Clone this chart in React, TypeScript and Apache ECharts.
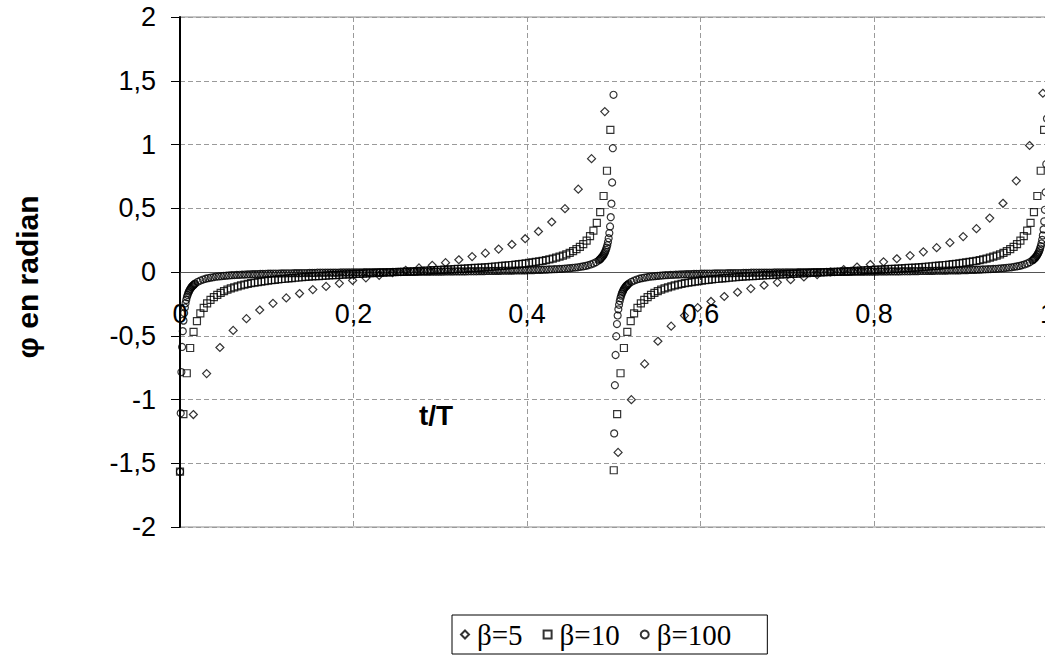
import React, { useEffect, useRef } from "react";
import * as echarts from "echarts";

// ---------- axes ----------
const X_MIN = 0;
const X_MAX = 1;
const X_STEP = 0.2;
const Y_MIN = -2;
const Y_MAX = 2;
const Y_STEP = 0.5;
const X_TITLE = "t/T";
const Y_TITLE = "\u03c6 en radian";
const SERIES_NAMES = ["\u03b2=5", "\u03b2=10", "\u03b2=100"];

// ---------- β=5 (uniform time samples) ----------
const B5_T0 = 0.0154;
const B5_DT = 0.0153;
const B5_PHI = [
  -1.118, -0.797, -0.592, -0.458, -0.366, -0.298, -0.246, -0.203, -0.169, -0.138,
  -0.113, -0.089, -0.066, -0.046, -0.026, -0.006, 0.013, 0.032, 0.052, 0.073,
  0.096, 0.121, 0.148, 0.18, 0.216, 0.261, 0.318, 0.392, 0.497, 0.65,
  0.889, 1.258,
  -1.415, -1.001, -0.721, -0.543, -0.425, -0.342, -0.28, -0.231, -0.192, -0.159,
  -0.13, -0.104, -0.081, -0.06, -0.039, -0.02, 0.0, 0.019, 0.039, 0.059,
  0.08, 0.104, 0.129, 0.158, 0.191, 0.23, 0.278, 0.34, 0.423, 0.539,
  0.715, 0.992, 1.402,
];

// ---------- β=10 (samples every 1/256 of T) ----------
const B10_DT = 0.00390625;
const B10_T0_P1 = 0;
const B10_T0_P2 = 0.5;
const B10_PHI_P1 = [
  -1.565,
  -1.115, -0.794, -0.596, -0.47, -0.385, -0.325, -0.281, -0.246, -0.219, -0.197,
  -0.179, -0.163, -0.15, -0.139, -0.129, -0.12, -0.112, -0.105, -0.099, -0.093,
  -0.088, -0.083, -0.079, -0.075, -0.071, -0.067, -0.064, -0.061, -0.058, -0.055,
  -0.053, -0.05, -0.048, -0.045, -0.043, -0.041, -0.039, -0.037, -0.035, -0.033,
  -0.032, -0.03, -0.028, -0.027, -0.025, -0.024, -0.022, -0.021, -0.019, -0.018,
  -0.017, -0.015, -0.014, -0.013, -0.011, -0.01, -0.009, -0.007, -0.006, -0.005,
  -0.004, -0.002, -0.001,
  0,
  0.001, 0.002, 0.004, 0.005, 0.006, 0.007, 0.009, 0.01, 0.011, 0.013,
  0.014, 0.015, 0.017, 0.018, 0.019, 0.021, 0.022, 0.024, 0.025, 0.027,
  0.028, 0.03, 0.032, 0.033, 0.035, 0.037, 0.039, 0.041, 0.043, 0.045,
  0.048, 0.05, 0.053, 0.055, 0.058, 0.061, 0.064, 0.067, 0.071, 0.075,
  0.079, 0.083, 0.088, 0.093, 0.099, 0.105, 0.112, 0.12, 0.129, 0.139,
  0.15, 0.163, 0.179, 0.197, 0.219, 0.246, 0.281, 0.325, 0.385, 0.47,
  0.596, 0.794, 1.115,
];
const B10_PHI_P2 = [
  -1.555,
  -1.115, -0.794, -0.596, -0.47, -0.385, -0.325, -0.281, -0.246, -0.219, -0.197,
  -0.179, -0.163, -0.15, -0.139, -0.129, -0.12, -0.112, -0.105, -0.099, -0.093,
  -0.088, -0.083, -0.079, -0.075, -0.071, -0.067, -0.064, -0.061, -0.058, -0.055,
  -0.053, -0.05, -0.048, -0.045, -0.043, -0.041, -0.039, -0.037, -0.035, -0.033,
  -0.032, -0.03, -0.028, -0.027, -0.025, -0.024, -0.022, -0.021, -0.019, -0.018,
  -0.017, -0.015, -0.014, -0.013, -0.011, -0.01, -0.009, -0.007, -0.006, -0.005,
  -0.004, -0.002, -0.001,
  0,
  0.001, 0.002, 0.004, 0.005, 0.006, 0.007, 0.009, 0.01, 0.011, 0.013,
  0.014, 0.015, 0.017, 0.018, 0.019, 0.021, 0.022, 0.024, 0.025, 0.027,
  0.028, 0.03, 0.032, 0.033, 0.035, 0.037, 0.039, 0.041, 0.043, 0.045,
  0.048, 0.05, 0.053, 0.055, 0.058, 0.061, 0.064, 0.067, 0.071, 0.075,
  0.079, 0.083, 0.088, 0.093, 0.099, 0.105, 0.112, 0.12, 0.129, 0.139,
  0.15, 0.163, 0.179, 0.197, 0.219, 0.246, 0.281, 0.325, 0.385, 0.47,
  0.596, 0.794, 1.115,
];

// ---------- β=100 (dense samples) ----------
// steep parts near the jumps: [t/T, phi]
const B100_NEAR_0 = [
  [0, -1.566], [0.0008, -1.107], [0.0016, -0.785], [0.0024, -0.588], [0.0032, -0.464],
  [0.004, -0.381], [0.0048, -0.322], [0.0056, -0.278], [0.0064, -0.245], [0.0072, -0.219],
  [0.008, -0.197], [0.0088, -0.18], [0.0095, -0.165], [0.0103, -0.153], [0.0111, -0.142],
  [0.0119, -0.133], [0.0127, -0.124], [0.0135, -0.117], [0.0143, -0.111], [0.0151, -0.105],
  [0.0159, -0.1], [0.0167, -0.095],
];
const B100_BEFORE_HALF = [
  [0.48379, 0.098], [0.48459, 0.103], [0.48538, 0.108], [0.48618, 0.115], [0.48698, 0.122],
  [0.48777, 0.129], [0.48857, 0.138], [0.48936, 0.149], [0.49016, 0.16], [0.49096, 0.174],
  [0.49175, 0.191], [0.49255, 0.21], [0.49334, 0.235], [0.49414, 0.265], [0.49493, 0.305],
  [0.49573, 0.357], [0.49653, 0.43], [0.49732, 0.536], [0.49812, 0.702], [0.49891, 0.971],
  [0.49971, 1.39],
];
const B100_AFTER_HALF = [
  [0.5005, -1.266], [0.5013, -0.888], [0.5021, -0.651], [0.5029, -0.504], [0.5037, -0.408],
  [0.5045, -0.341], [0.5053, -0.293], [0.5061, -0.257], [0.5069, -0.228], [0.5077, -0.205],
  [0.5085, -0.186], [0.5093, -0.17], [0.5101, -0.157], [0.5109, -0.146], [0.5116, -0.136],
  [0.5124, -0.127], [0.5132, -0.12], [0.514, -0.113], [0.5148, -0.107], [0.5156, -0.102],
  [0.5164, -0.097],
];
const B100_BEFORE_1 = [
  [0.98347, 0.096], [0.98427, 0.101], [0.98506, 0.106], [0.98586, 0.112], [0.98665, 0.119],
  [0.98745, 0.126], [0.98825, 0.135], [0.98904, 0.144], [0.98984, 0.155], [0.99063, 0.168],
  [0.99143, 0.184], [0.99223, 0.202], [0.99302, 0.224], [0.99382, 0.252], [0.99461, 0.287],
  [0.99541, 0.334], [0.9962, 0.397], [0.997, 0.488], [0.9978, 0.625], [0.99859, 0.846],
  [0.99939, 1.203],
];
// flat part of each half period, read every 0.003 T
const B100_FLAT_T0 = [0.0175, 0.5175];
const B100_FLAT_DT = 0.003;
const B100_FLAT_PHI = [
  -0.09, -0.077, -0.067, -0.059, -0.053, -0.048, -0.044, -0.041, -0.037, -0.035,
  -0.033, -0.03, -0.029, -0.027, -0.025, -0.024, -0.023, -0.022, -0.021, -0.02,
  -0.019, -0.018, -0.017, -0.017, -0.016, -0.015, -0.015, -0.014, -0.013, -0.013,
  -0.012, -0.012, -0.012, -0.011, -0.011, -0.01, -0.01, -0.01, -0.009, -0.009,
  -0.009, -0.008, -0.008, -0.008, -0.007, -0.007, -0.007, -0.006, -0.006, -0.006,
  -0.006, -0.005, -0.005, -0.005, -0.005, -0.005, -0.004, -0.004, -0.004, -0.004,
  -0.003, -0.003, -0.003, -0.003, -0.003, -0.002, -0.002, -0.002, -0.002, -0.002,
  -0.001, -0.001, -0.001, -0.001, -0.001, -0.001, 0, 0,
  0, 0, 0.001, 0.001, 0.001, 0.001, 0.001, 0.001, 0.002, 0.002,
  0.002, 0.002, 0.002, 0.003, 0.003, 0.003, 0.003, 0.003, 0.004, 0.004,
  0.004, 0.004, 0.005, 0.005, 0.005, 0.005, 0.005, 0.006, 0.006, 0.006,
  0.006, 0.007, 0.007, 0.007, 0.008, 0.008, 0.008, 0.009, 0.009, 0.009,
  0.01, 0.01, 0.01, 0.011, 0.011, 0.012, 0.012, 0.012, 0.013, 0.013,
  0.014, 0.015, 0.015, 0.016, 0.017, 0.017, 0.018, 0.019, 0.02, 0.021,
  0.022, 0.023, 0.024, 0.025, 0.027, 0.029, 0.03, 0.033, 0.035, 0.037,
  0.041, 0.044, 0.048, 0.053, 0.059, 0.067, 0.077, 0.09,
];

const FONT = "'Liberation Sans', Arial, sans-serif";
const SERIF = "'Liberation Serif', 'Times New Roman', serif";

const GRID_LEFT = 180;
const GRID_TOP = 17;
const GRID_W = 867.5;
const GRID_H = 510;

export default function App() {
  const ref = useRef<HTMLDivElement>(null);

  useEffect(() => {
    const el = ref.current;
    if (!el) return;
    const chart = echarts.init(el, undefined, { renderer: "svg" });
    const fmt = (v: number) => String(v).replace(".", ",");

    const uniform = (t0: number, dt: number, phi: number[]) =>
      phi.map((p, i) => [t0 + i * dt, p]);

    const b5 = uniform(B5_T0, B5_DT, B5_PHI);
    const b10 = [
      ...uniform(B10_T0_P1, B10_DT, B10_PHI_P1),
      ...uniform(B10_T0_P2, B10_DT, B10_PHI_P2),
    ];
    const b100 = [
      ...B100_NEAR_0,
      ...uniform(B100_FLAT_T0[0], B100_FLAT_DT, B100_FLAT_PHI),
      ...B100_BEFORE_HALF,
      ...B100_AFTER_HALF,
      ...uniform(B100_FLAT_T0[1], B100_FLAT_DT, B100_FLAT_PHI),
      ...B100_BEFORE_1,
    ];

    const hollow = {
      color: "rgba(0,0,0,0)",
      borderColor: "#000",
      borderWidth: 1.2,
    };

    // the x axis crosses the y axis at 0: shift it up from the grid bottom
    const zeroOffset = -GRID_H * (0 - Y_MIN) / (Y_MAX - Y_MIN);

    chart.setOption({
      animation: false,
      backgroundColor: "#fff",
      grid: {
        left: GRID_LEFT,
        top: GRID_TOP,
        width: GRID_W,
        height: GRID_H,
        containLabel: false,
        outerBoundsMode: "none",
        show: true,
        borderColor: "#8c8c8c",
        borderWidth: 1,
        backgroundColor: "transparent",
      },
      xAxis: {
        type: "value",
        min: X_MIN,
        max: X_MAX,
        interval: X_STEP,
        offset: zeroOffset,
        axisLine: { show: true, onZero: false, lineStyle: { color: "#555", width: 1 } },
        axisTick: { show: true, length: 8, lineStyle: { color: "#333" } },
        axisLabel: {
          margin: 28,
          fontSize: 27,
          fontFamily: FONT,
          color: "#000",
          formatter: fmt,
        },
        splitLine: {
          show: true,
          lineStyle: { color: "#9a9a9a", type: [5, 3], width: 1 },
        },
      },
      yAxis: {
        type: "value",
        min: Y_MIN,
        max: Y_MAX,
        interval: Y_STEP,
        axisLine: { show: true, onZero: false, lineStyle: { color: "#000", width: 2 } },
        axisTick: { show: true, length: 9, lineStyle: { color: "#000" } },
        axisLabel: {
          margin: 24,
          fontSize: 27,
          fontFamily: FONT,
          color: "#000",
          formatter: fmt,
        },
        splitLine: {
          show: true,
          lineStyle: { color: "#9a9a9a", type: [5, 3], width: 1 },
        },
      },
      legend: {
        data: SERIES_NAMES,
        left: 452,
        top: 615,
        orient: "horizontal",
        borderColor: "#000",
        borderWidth: 1,
        borderRadius: 0,
        padding: [5, 36, 5, 8],
        itemGap: 20,
        itemWidth: 8,
        itemHeight: 8,
        textStyle: { fontFamily: SERIF, fontSize: 29, color: "#000", padding: [0, 0, 0, 3] },
      },
      graphic: [
        {
          type: "text",
          x: 27,
          y: 277,
          rotation: Math.PI / 2,
          style: {
            text: Y_TITLE,
            font: `bold 30px ${FONT}`,
            fill: "#000",
            align: "center",
            verticalAlign: "middle",
          },
        },
        {
          type: "text",
          x: 436,
          y: 415,
          style: {
            text: X_TITLE,
            font: `bold 28px ${FONT}`,
            fill: "#000",
            align: "center",
            verticalAlign: "middle",
          },
        },
      ],
      series: [
        {
          name: SERIES_NAMES[0],
          type: "scatter",
          symbol: "diamond",
          symbolSize: 8,
          itemStyle: hollow,
          data: b5,
          clip: true,
        },
        {
          name: SERIES_NAMES[1],
          type: "scatter",
          symbol: "rect",
          symbolSize: 7,
          itemStyle: hollow,
          data: b10,
          clip: true,
        },
        {
          name: SERIES_NAMES[2],
          type: "scatter",
          symbol: "circle",
          symbolSize: 7,
          itemStyle: hollow,
          data: b100,
          clip: true,
        },
      ],
    });

    return () => chart.dispose();
  }, []);

  return (
    <div
      ref={ref}
      style={{ position: "fixed", left: 0, top: 0, width: 1045, height: 660, background: "#fff" }}
    />
  );
}
